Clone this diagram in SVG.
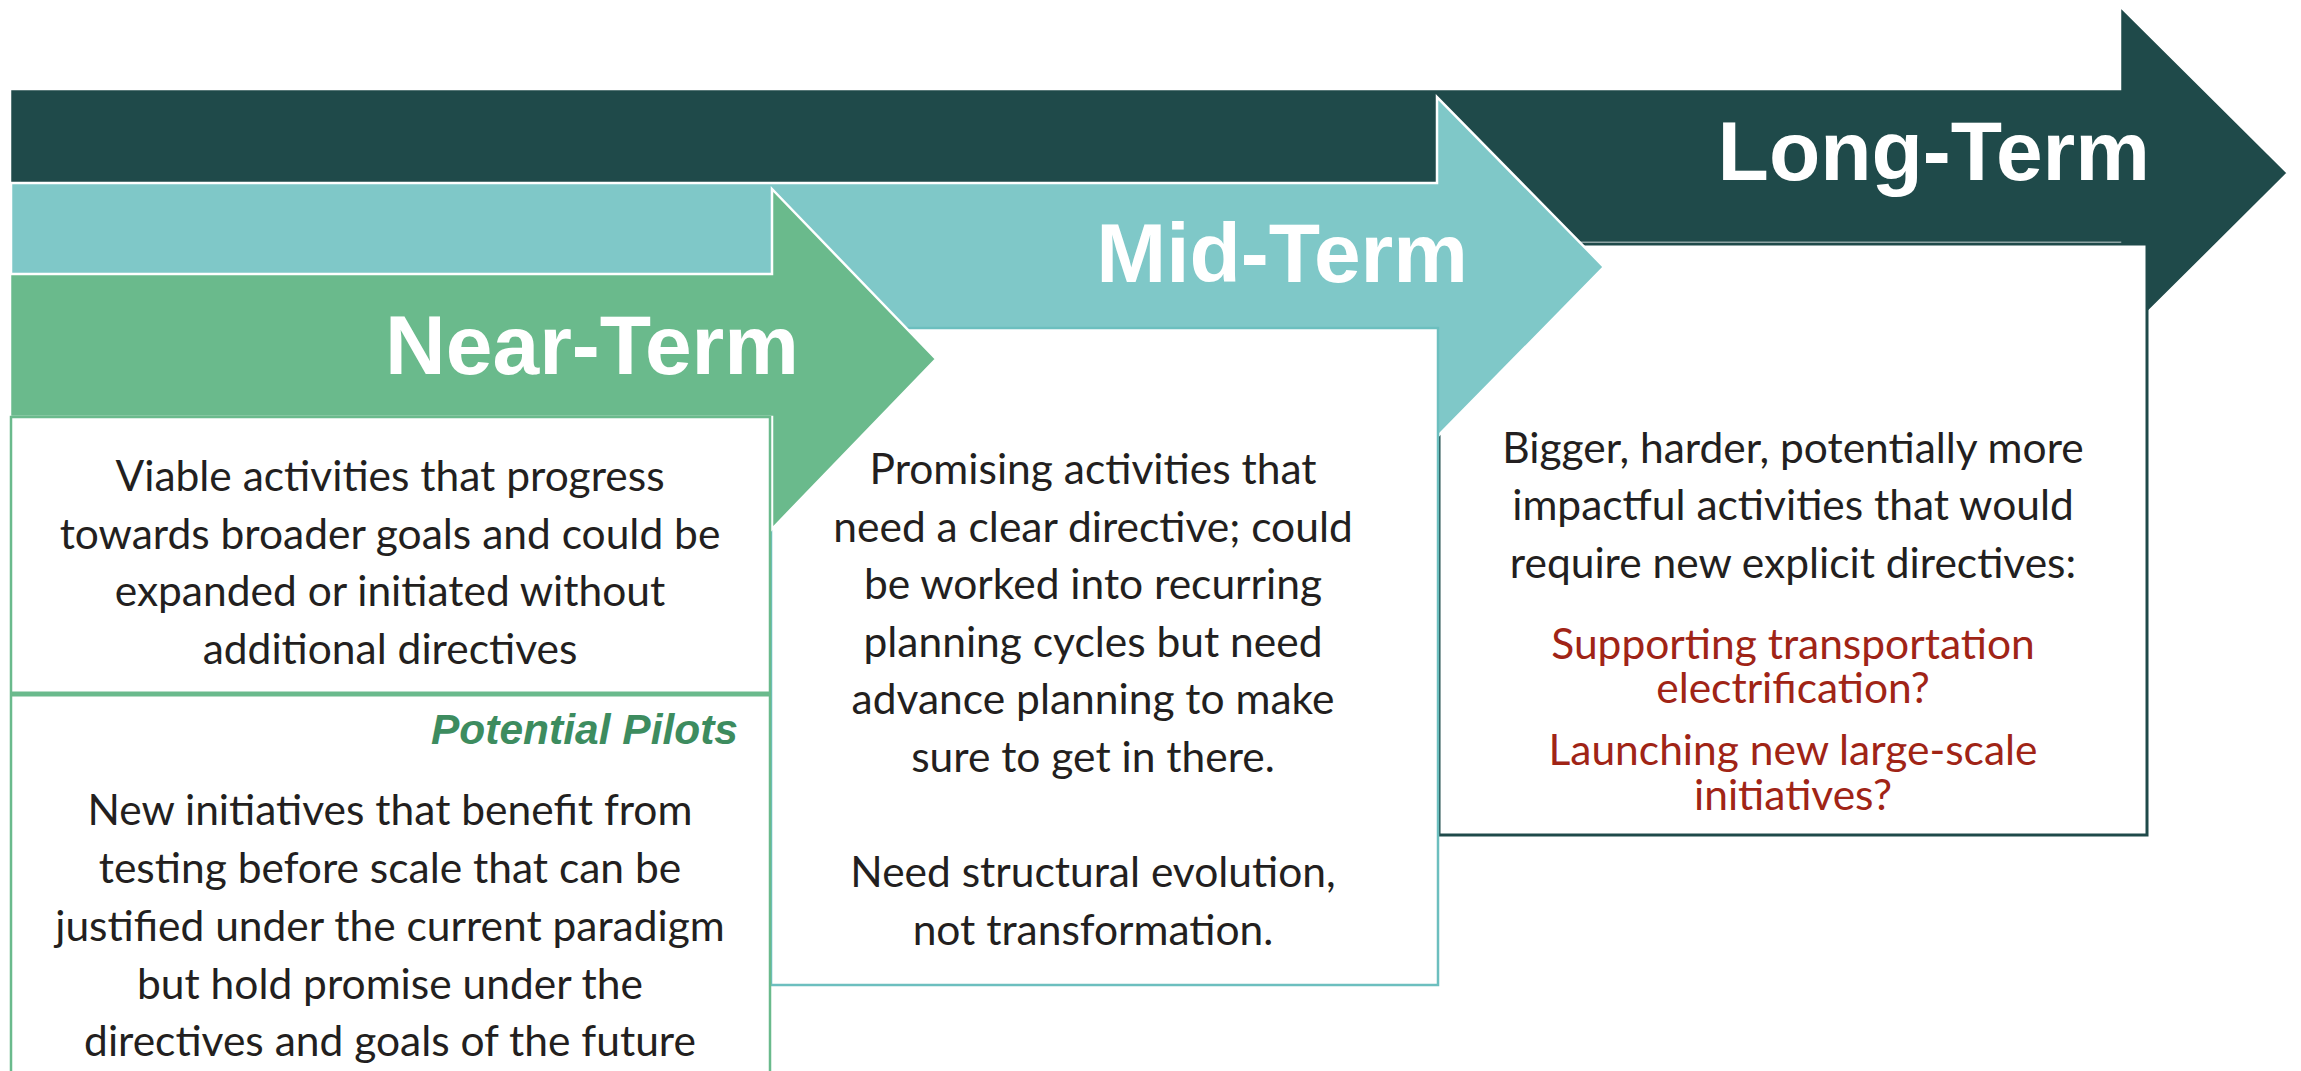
<svg xmlns="http://www.w3.org/2000/svg" width="2301" height="1071" viewBox="0 0 2301 1071">
<style>
.arrow{stroke:#ffffff;stroke-width:2.5;stroke-linejoin:miter}
.dark{fill:#1f4a4a}
.teal{fill:#7fc8c8}
.green{fill:#6aba8c}
.label{font-family:"Liberation Sans",Arial,sans-serif;font-weight:bold;font-size:84px;fill:#ffffff;text-anchor:end}
.body{font-family:Lato,"Open Sans",sans-serif;font-size:42.5px;fill:#231f20;text-anchor:middle}
.red{font-family:Lato,"Open Sans",sans-serif;font-size:42.5px;fill:#a02416;text-anchor:middle}
.pilot{font-family:"Liberation Sans",Arial,sans-serif;font-weight:bold;font-style:italic;font-size:42.5px;fill:#3d8c5f;text-anchor:end}
</style>
<rect width="2301" height="1071" fill="#ffffff"/>
<g id="long-term">
  <polygon class="arrow dark" points="10,89 2120,89 2120,6 2288,173 2120,340 2120,243 10,243"/>
  <rect x="1439" y="244" width="708" height="591" fill="#ffffff" stroke="#1f4a4a" stroke-width="3"/>
  <text class="label" x="2150" y="180">Long-Term</text>
  <text class="body" x="1793" y="463">Bigger, harder, potentially more</text>
  <text class="body" x="1793" y="520">impactful activities that would</text>
  <text class="body" x="1793" y="578">require new explicit directives:</text>
  <text class="red" x="1793" y="659">Supporting transportation</text>
  <text class="red" x="1793" y="703">electrification?</text>
  <text class="red" x="1793" y="765">Launching new large-scale</text>
  <text class="red" x="1793" y="810">initiatives?</text>
</g>
<g id="mid-term">
  <polygon class="arrow teal" points="11,183 1437,183 1437,97 1604,267 1437,437 1437,350 11,350"/>
  <rect x="771" y="328" width="667" height="657" fill="#ffffff" stroke="#6cbfbf" stroke-width="2.5"/>
  <text class="label" x="1468" y="282">Mid-Term</text>
  <text class="body" x="1093" y="484">Promising activities that</text>
  <text class="body" x="1093" y="541.6">need a clear directive; could</text>
  <text class="body" x="1093" y="599.2">be worked into recurring</text>
  <text class="body" x="1093" y="656.8">planning cycles but need</text>
  <text class="body" x="1093" y="714.4">advance planning to make</text>
  <text class="body" x="1093" y="772">sure to get in there.</text>
  <text class="body" x="1093" y="887.2">Need structural evolution,</text>
  <text class="body" x="1093" y="944.8">not transformation.</text>
</g>
<g id="near-term">
  <polygon class="arrow green" points="10,274 772,274 772,189 936,359 772,529 772,417 10,417"/>
  <rect x="11" y="417" width="759" height="680" fill="#ffffff" stroke="#6aba8c" stroke-width="2.5"/>
  <line x1="11" y1="694" x2="770" y2="694" stroke="#6aba8c" stroke-width="5"/>
  <text class="label" x="799" y="374">Near-Term</text>
  <text class="body" x="390" y="491">Viable activities that progress</text>
  <text class="body" x="390" y="548.5">towards broader goals and could be</text>
  <text class="body" x="390" y="606">expanded or initiated without</text>
  <text class="body" x="390" y="663.5">additional directives</text>
  <text class="pilot" x="738" y="744">Potential Pilots</text>
  <text class="body" x="390" y="825">New initiatives that benefit from</text>
  <text class="body" x="390" y="883">testing before scale that can be</text>
  <text class="body" x="390" y="941">justified under the current paradigm</text>
  <text class="body" x="390" y="998.5">but hold promise under the</text>
  <text class="body" x="390" y="1056">directives and goals of the future</text>
</g>
<g id="connectors"/>
</svg>
